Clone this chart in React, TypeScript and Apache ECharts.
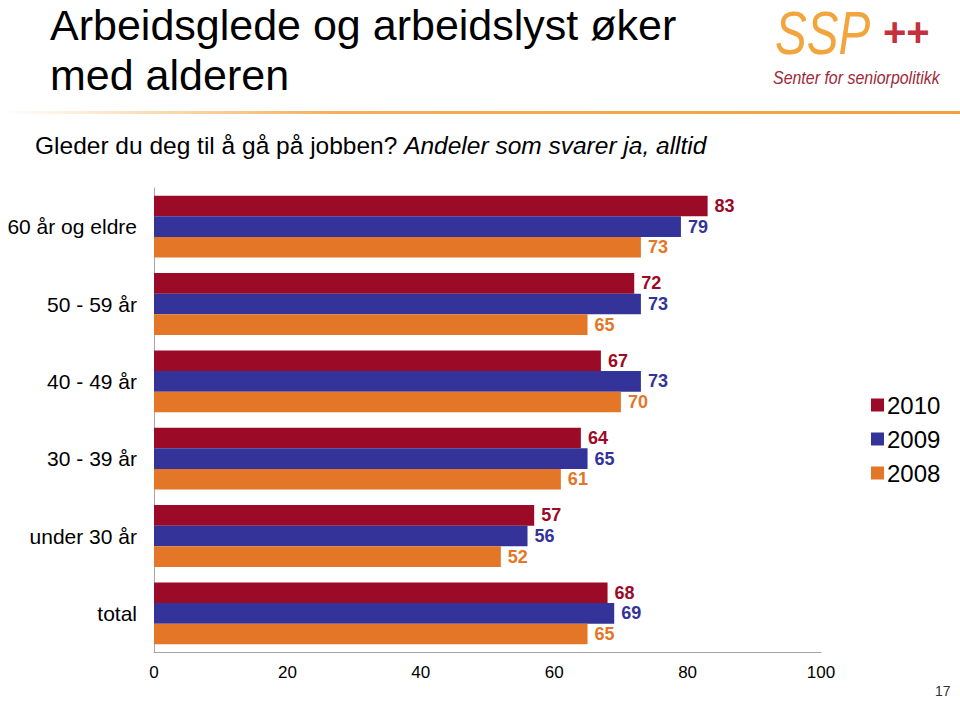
import React, { useEffect, useRef } from "react";
import * as echarts from "echarts";

const categories = ["60 år og eldre", "50 - 59 år", "40 - 49 år", "30 - 39 år", "under 30 år", "total"];
const seriesNames = ["2010", "2009", "2008"];
const values2010 = [83, 72, 67, 64, 57, 68];
const values2009 = [79, 73, 73, 65, 56, 69];
const values2008 = [73, 65, 70, 61, 52, 65];
const xTicks = [0, 20, 40, 60, 80, 100];
const colors = ["#9B0A26", "#333399", "#E47627"];

const FONT = "'Liberation Sans', Arial, sans-serif";

export default function App() {
  const ref = useRef<HTMLDivElement>(null);
  useEffect(() => {
    if (!ref.current) return;
    const chart = echarts.init(ref.current, null, { renderer: "svg" });
    const data = [values2010, values2009, values2008];
    chart.setOption({
      animation: false,
      backgroundColor: "#ffffff",
      textStyle: { fontFamily: FONT },
      grid: { left: 154, right: 139, top: 188, bottom: 49, containLabel: false },
      legend: {
        orient: "vertical",
        left: 866,
        top: 388,
        itemWidth: 13,
        itemHeight: 13,
        itemGap: 10,
        icon: "rect",
        textStyle: { fontSize: 24, color: "#000", fontFamily: FONT, padding: [0, 0, 0, -2] },
        data: seriesNames,
      },
      xAxis: {
        type: "value",
        min: 0,
        max: 100,
        interval: 20,
        axisLine: { show: true, lineStyle: { color: "#A6A6A6", width: 1 } },
        axisTick: { show: false },
        splitLine: { show: false },
        axisLabel: {
          color: "#000",
          fontSize: 17,
          margin: 12,
          fontFamily: FONT,
          formatter: (v: number) => (xTicks.includes(v) ? String(v) : ""),
        },
      },
      yAxis: {
        type: "category",
        inverse: true,
        data: categories,
        axisLine: { show: true, lineStyle: { color: "#A6A6A6", width: 1 } },
        axisTick: { show: false },
        axisLabel: { color: "#000", fontSize: 21, margin: 17, fontFamily: FONT },
      },
      series: seriesNames.map((name, i) => ({
        name,
        type: "bar",
        data: data[i],
        barGap: "0%",
        barCategoryGap: "20%",
        itemStyle: { color: colors[i] },
        label: {
          show: true,
          position: "right",
          distance: 7,
          color: colors[i],
          fontSize: 18,
          fontWeight: "bold",
          fontFamily: FONT,
        },
      })),
      graphic: [
        {
          type: "text",
          left: 50,
          top: 0,
          style: {
            text: "Arbeidsglede og arbeidslyst øker\nmed alderen",
            font: `43px ${FONT}`,
            fill: "#000",
            lineHeight: 50,
          },
        },
        {
          type: "rect",
          shape: { x: 0, y: 111, width: 960, height: 3 },
          style: {
            fill: new echarts.graphic.LinearGradient(0, 0, 1, 0, [
              { offset: 0, color: "rgba(245,170,70,0)" },
              { offset: 0.35, color: "rgba(242,160,60,0.85)" },
              { offset: 1, color: "rgba(242,160,60,1)" },
            ]),
          },
        },
        {
          type: "text",
          left: 35,
          top: 133,
          style: {
            text: "{n|Gleder du deg til å gå på jobben? }{i|Andeler som svarer ja, alltid}",
            rich: {
              n: { fontSize: 24.5, fontFamily: FONT, fill: "#000" },
              i: { fontSize: 24.5, fontFamily: FONT, fontStyle: "italic", fill: "#000" },
            },
          },
        },
        {
          type: "text",
          x: 775,
          y: 3,
          scaleX: 0.82,
          scaleY: 1.05,
          style: {
            text: "SSP",
            font: `italic 58px ${FONT}`,
            fill: "#F2A53C",
          },
        },
        {
          type: "text",
          x: 883,
          y: 12,
          style: {
            text: "++",
            font: `bold 40px ${FONT}`,
            fill: "#C4303E",
          },
        },
        {
          type: "text",
          x: 773,
          y: 68,
          scaleX: 0.84,
          style: {
            text: "Senter for seniorpolitikk",
            font: `italic 19px ${FONT}`,
            fill: "#9E2A3A",
          },
        },
        {
          type: "text",
          left: 935,
          top: 684,
          style: {
            text: "17",
            font: `14px ${FONT}`,
            fill: "#333",
          },
        },
      ],
    });
    return () => chart.dispose();
  }, []);
  return <div ref={ref} style={{ width: 960, height: 701, position: "absolute", left: 0, top: 0 }} />;
}
